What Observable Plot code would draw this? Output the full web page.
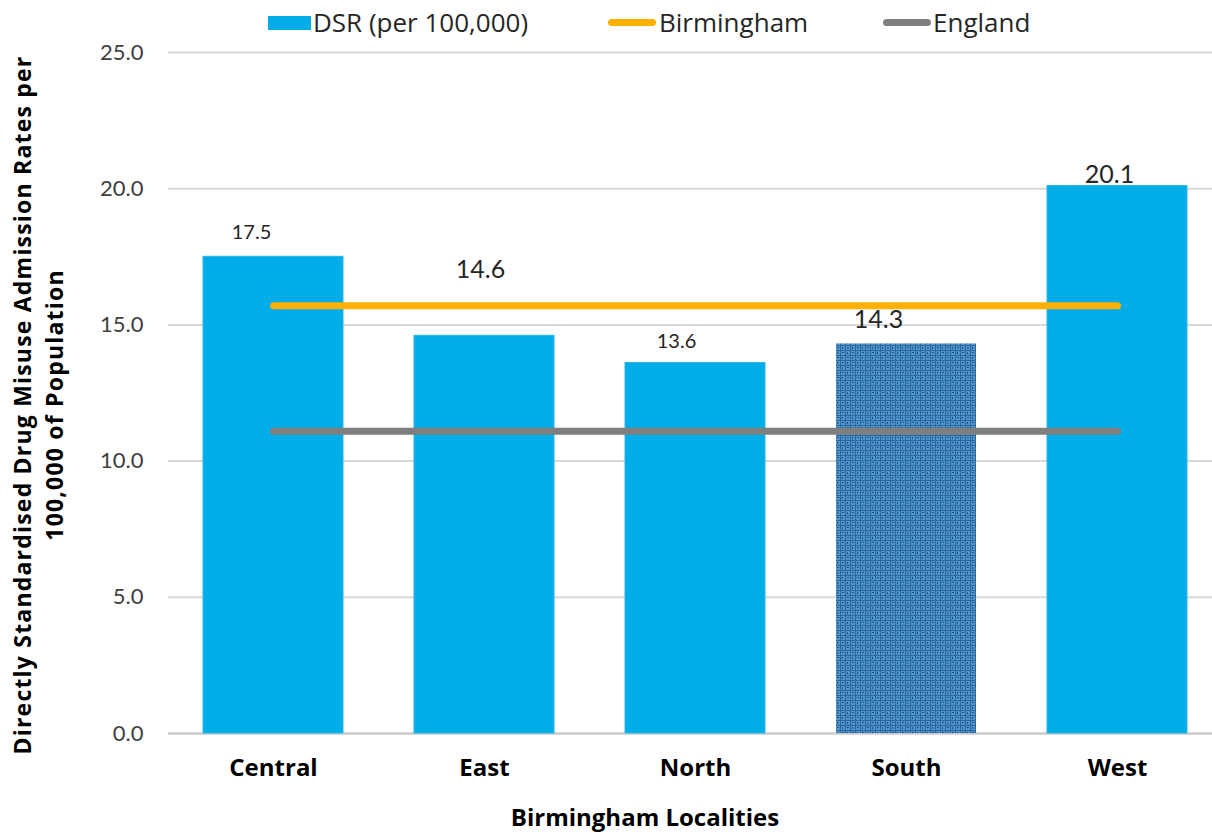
<!DOCTYPE html>
<html>
<head>
<meta charset="utf-8">
<script src="https://cdn.jsdelivr.net/npm/d3@7"></script>
<script src="https://cdn.jsdelivr.net/npm/@observablehq/plot@0.6"></script>
<style>
  html, body { margin: 0; padding: 0; background: #fff; overflow: hidden; }
  #wrap { position: relative; width: 1212px; height: 832px; font-family: "Open Sans", Lato, sans-serif; }
  #chart { position: absolute; left: 0; top: 0; }
  .legend { position: absolute; top: 7px; left: 0; width: 1212px; height: 30px; font-size: 26px; color: #262626; }
  .legend .item { position: absolute; top: 0; height: 30px; line-height: 30px; white-space: nowrap; }
  .legend .sw-rect { position: absolute; top: 9px; width: 43px; height: 14px; background: #00ADE9; }
  .legend .sw-line { position: absolute; top: 12px; height: 7px; border-radius: 4px; width: 48px; }
</style>
</head>
<body>
<div id="wrap">
  <div id="chart"></div>
  <div class="legend" id="legend"></div>
</div>
<script>
// ---- Data ----
const localities = ["Central", "East", "North", "South", "West"];
const dsrValues = [17.5, 14.6, 13.6, 14.3, 20.1];
const birminghamRate = 15.7;
const englandRate = 11.1;
const yTicks = [0, 5, 10, 15, 20, 25];
const seriesNames = ["DSR (per 100,000)", "Birmingham", "England"];
const yTitle = "Directly Standardised Drug Misuse Admission Rates per\n100,000 of Population";
const xTitle = "Birmingham Localities";

// ---- Styling (not data) ----
const barColor = "#00ADE9";
const bhamColor = "#FFB000";
const engColor = "#7F7F7F";
const boldFont = "'Open Sans', Lato, sans-serif";
const labelStyle = {
  Central: {dx: -22, dy: -18, size: 20},
  East:    {dx: -4,  dy: -58, size: 25},
  North:   {dx: -19, dy: -15, size: 20},
  South:   {dx: -28, dy: -16, size: 25},
  West:    {dx: -8,  dy: -3,  size: 25}
};

const rows = localities.map((loc, i) => ({loc, value: dsrValues[i]}));
const bhamRows = localities.map(loc => ({loc, value: birminghamRate}));
const engRows = localities.map(loc => ({loc, value: englandRate}));

const labelMarks = rows.map(r => Plot.text([r], {
  x: "loc", y: "value", text: d => d.value.toFixed(1),
  lineAnchor: "bottom", dx: labelStyle[r.loc].dx, dy: labelStyle[r.loc].dy,
  fontSize: labelStyle[r.loc].size, fill: "#262626"
}));

const chart = Plot.plot({
  width: 1212,
  height: 832,
  marginTop: 52,
  marginBottom: 99,
  marginLeft: 168,
  marginRight: -11,
  style: {fontFamily: "Lato, 'Open Sans', sans-serif", fontSize: "22px", color: "#404040", background: "#fff"},
  x: {domain: localities, paddingInner: 0.336, paddingOuter: 0.168, label: null},
  y: {domain: [0, 25], label: null},
  marks: [
    Plot.gridY(yTicks, {stroke: "#D9D9D9", strokeOpacity: 1, strokeWidth: 2}),
    Plot.ruleY([0], {stroke: "#C8C8C8", strokeWidth: 2}),
    Plot.ruleX([0], {x: () => null, frameAnchor: "left", stroke: "#6E6E6E", strokeWidth: 1.5}),
    Plot.barY(rows.filter(d => d.loc !== "South"), {x: "loc", y: "value", fill: barColor, stroke: "#2BB5E6", strokeWidth: 1}),
    Plot.barY(rows.filter(d => d.loc === "South"), {x: "loc", y: "value", fill: "url(#southPattern)"}),
    Plot.line(bhamRows, {x: "loc", y: "value", stroke: bhamColor, strokeWidth: 7, strokeLinecap: "round"}),
    Plot.line(engRows, {x: "loc", y: "value", stroke: engColor, strokeWidth: 7, strokeLinecap: "round"}),
    ...labelMarks,
    Plot.axisY(yTicks, {tickSize: 0, tickPadding: 25, tickFormat: d3.format(".1f"), fontSize: 22, fill: "#404040", label: null}),
    Plot.axisX({tickSize: 0, tickPadding: 25, fontSize: 24, fontWeight: "bold", fontFamily: boldFont, fill: "#000", label: null}),
    Plot.text([yTitle], {frameAnchor: "left", textAnchor: "middle", dx: -132, dy: 12, rotate: -90, fontSize: 23, fontWeight: "bold", fontFamily: boldFont, fill: "#000", lineAnchor: "middle", lineHeight: 1.4}),
    Plot.text([xTitle], {frameAnchor: "bottom", dx: -51, dy: 85, fontSize: 24, fontWeight: "bold", fontFamily: boldFont, fill: "#000", lineAnchor: "middle"})
  ]
});

// pattern for the South bar
const svg = d3.select(chart);
const defs = svg.insert("defs", ":first-child");
const pat = defs.append("pattern").attr("id", "southPattern")
  .attr("patternUnits", "userSpaceOnUse").attr("width", 10).attr("height", 10);
pat.append("rect").attr("width", 10).attr("height", 10).attr("fill", "#4F95CC");
pat.append("path").attr("d", "M0 0.5H10M0 5.5H10M0.5 0V10M5.5 0V10").attr("stroke", "#2A689D").attr("stroke-width", 1);
pat.append("path").attr("d", "M2 2.5h2M7 7.5h2M2.5 7v2M7.5 2v2").attr("stroke", "#1D5384").attr("stroke-width", 1);

// widen the y-axis title slightly to match the reference font's width
svg.selectAll("text").filter(function () { return this.textContent.startsWith("Directly"); })
  .style("letter-spacing", "1.2px");

document.getElementById("chart").appendChild(chart);

// legend
const legend = document.getElementById("legend");
const items = [
  {name: seriesNames[0], kind: "rect", color: barColor, swLeft: 268, textLeft: 313},
  {name: seriesNames[1], kind: "line", color: bhamColor, swLeft: 608, textLeft: 659},
  {name: seriesNames[2], kind: "line", color: engColor, swLeft: 883, textLeft: 933}
];
for (const it of items) {
  const sw = document.createElement("div");
  sw.className = it.kind === "rect" ? "sw-rect" : "sw-line";
  sw.style.left = it.swLeft + "px";
  sw.style.background = it.color;
  legend.appendChild(sw);
  const t = document.createElement("div");
  t.className = "item";
  t.style.left = it.textLeft + "px";
  t.textContent = it.name;
  legend.appendChild(t);
}
</script>
</body>
</html>
